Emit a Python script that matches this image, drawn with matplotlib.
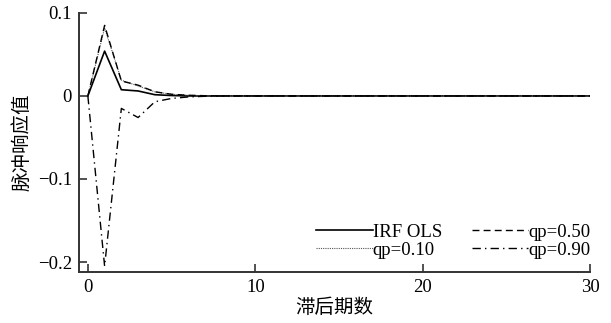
import matplotlib.pyplot as plt
import numpy as np

plt.rcParams['font.family'] = ['Liberation Serif', 'Noto Sans CJK SC']
plt.rcParams['axes.unicode_minus'] = True

# impulse responses by lag (0..30)
lags = np.arange(31)
irf_ols = [0, 0.054, 0.0075, 0.006, 0.0015, 0.0005] + [0] * 25
qp_50 = [0, 0.085, 0.018, 0.013, 0.005, 0.002, 0.0008, 0.0003] + [0] * 23
qp_10 = [0, 0.082, 0.019, 0.012, 0.005, 0.002, 0.0008, 0.0003] + [0] * 23
qp_90 = [0, -0.205, -0.015, -0.026, -0.007, -0.003, -0.0012, -0.0004] + [0] * 23

fig = plt.figure(figsize=(6.11, 3.23), dpi=100)
ax = fig.add_axes([0.129, 0.158, 0.837, 0.802])

ax.plot(lags, irf_ols, color='black', lw=1.2, label='IRF OLS')
ax.plot(lags, qp_10, color='#555555', lw=0.8, linestyle=(0, (1, 1)), label='qp=0.10')
ax.plot(lags, qp_50, color='black', lw=1.0, linestyle=(0, (5, 3)), label='qp=0.50')
ax.plot(lags, qp_90, color='black', lw=1.0, linestyle=(0, (6, 3, 1, 3)), label='qp=0.90')

ax.set_xlim(-0.54, 30)
ax.set_ylim(-0.212, 0.1)
ax.set_xticks([0, 10, 20, 30])
ax.set_yticks([-0.2, -0.1, 0, 0.1])
ax.set_yticklabels(['\u22120.2', '\u22120.1', '0', '0.1'])

for s in ['top', 'right']:
    ax.spines[s].set_visible(False)
for s in ['left', 'bottom']:
    ax.spines[s].set_linewidth(1.4)
    ax.spines[s].set_color('#333333')
ax.tick_params(direction='in', length=6, width=1.2, color='#333333', labelsize=13.5)
ax.tick_params(axis='x', pad=5)
ax.tick_params(axis='y', pad=5)

ax.set_xlabel('滞后期数', fontsize=14, family=['Noto Sans CJK SC'], labelpad=1)
ax.set_ylabel('脉冲响应值', fontsize=14, family=['Noto Sans CJK SC'], labelpad=4)

ax.legend(loc='lower right', ncol=2, frameon=False, fontsize=13.5,
          handlelength=3.0, handletextpad=0.0, columnspacing=1.6,
          labelspacing=0.05, borderpad=0.0, borderaxespad=0.0,
          bbox_to_anchor=(1.0, 0.05))

plt.savefig('out.png', dpi=100)
